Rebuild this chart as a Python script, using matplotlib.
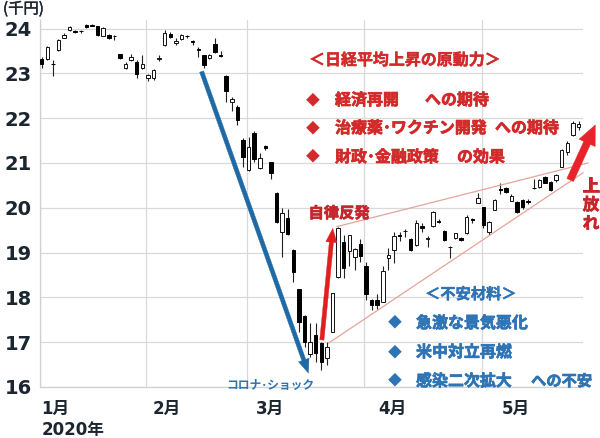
import matplotlib
matplotlib.use("Agg")
import matplotlib.pyplot as plt
import matplotlib.patheffects as pe
import numpy as np

plt.rcParams['font.family'] = ['Noto Sans CJK JP', 'DejaVu Sans']

# ------------------------------------------------------------
# Data: Nikkei 225 daily candles, Jan - May 2020 (unit: 千円)
# ------------------------------------------------------------
jan_days = [6, 7, 8, 9, 10, 14, 15, 16, 17, 20, 21, 22, 23, 24, 27, 28, 29, 30, 31]
feb_days = [3, 4, 5, 6, 7, 10, 12, 13, 14, 17, 18, 19, 20, 21, 25, 26, 27, 28]
mar_days = [2, 3, 4, 5, 6, 9, 10, 11, 12, 13, 16, 17, 18, 19, 23, 24, 25, 26, 27, 30, 31]
apr_days = [1, 2, 3, 6, 7, 8, 9, 10, 13, 14, 15, 16, 17, 20, 21, 22, 23, 24, 27, 28, 30]
may_days = [1, 7, 8, 11, 12, 13, 14, 15, 18, 19, 20, 21, 22, 25, 26, 27, 28, 29]
month_names = ["1月", "2月", "3月", "4月", "5月"]

opens = [
    23.32, 23.31, 23.22, 23.52, 23.79, 23.96, 23.94, 23.95, 24.09, 24.07, 24.05, 23.84, 23.85, 23.83, 23.43, 23.11, 23.30, 23.26, 23.11,
    22.89, 22.89, 23.33, 23.63, 23.88, 23.67, 23.76, 23.84, 23.71, 23.54, 23.40, 23.34, 23.65, 23.41, 22.94, 22.36, 22.26, 21.51,
    20.84, 21.66, 20.88, 21.39, 21.02, 20.34, 19.47, 19.77, 19.06, 18.18, 17.58, 16.74, 17.16, 16.99, 16.64, 17.23, 18.45, 19.24, 19.03, 18.90, 19.19,
    18.69, 17.94, 17.95, 17.90, 18.88, 19.06, 19.39, 19.48, 19.30, 19.17, 19.59, 19.31, 19.59, 19.70, 19.49, 19.12, 19.32, 19.33, 19.43, 19.74, 20.11,
    20.01, 19.47, 19.95, 20.41, 20.44, 20.16, 20.14, 20.17, 20.14, 20.45, 20.46, 20.68, 20.58, 20.62, 20.92, 21.25, 21.63, 21.81,
]
highs = [
    23.37, 23.60, 23.30, 23.77, 23.90, 24.06, 23.97, 23.97, 24.11, 24.10, 24.06, 24.03, 23.87, 23.86, 23.44, 23.25, 23.44, 23.30, 23.41,
    22.99, 23.09, 23.40, 23.97, 23.92, 23.80, 23.88, 23.86, 23.75, 23.58, 23.42, 23.43, 23.80, 23.51, 22.96, 22.47, 22.30, 21.55,
    21.59, 21.72, 21.22, 21.40, 21.03, 20.35, 19.99, 19.98, 19.07, 18.19, 17.60, 17.42, 17.42, 17.00, 17.01, 18.10, 19.56, 19.39, 19.40, 19.10, 19.30,
    18.80, 17.97, 18.07, 18.69, 19.10, 19.47, 19.45, 19.52, 19.33, 19.73, 19.66, 19.36, 19.93, 19.74, 19.50, 19.15, 19.44, 19.35, 19.83, 19.78, 20.32,
    20.02, 19.70, 20.19, 20.55, 20.46, 20.30, 20.16, 20.20, 20.20, 20.64, 20.64, 20.70, 20.60, 20.75, 21.32, 21.48, 21.94, 21.94,
]
lows = [
    23.13, 23.30, 22.95, 23.50, 23.78, 23.95, 23.90, 23.91, 24.02, 24.05, 23.84, 23.83, 23.76, 23.74, 23.31, 23.10, 23.28, 22.89, 23.10,
    22.82, 22.86, 23.27, 23.61, 23.78, 23.64, 23.75, 23.80, 23.63, 23.37, 23.13, 23.32, 23.45, 23.37, 22.35, 22.15, 21.85, 20.92,
    20.83, 21.03, 20.86, 21.28, 20.64, 19.65, 18.91, 19.40, 18.34, 17.22, 16.90, 16.68, 16.56, 16.38, 16.49, 17.22, 18.44, 18.43, 18.70, 18.61, 18.80,
    17.95, 17.72, 17.75, 17.89, 18.61, 18.76, 19.25, 19.35, 19.03, 19.15, 19.47, 19.13, 19.58, 19.67, 19.25, 18.87, 19.30, 19.25, 19.42, 19.65, 20.10,
    19.54, 19.40, 19.94, 20.31, 20.34, 20.15, 19.88, 19.98, 20.08, 20.43, 20.45, 20.55, 20.38, 20.58, 20.90, 21.18, 21.60, 21.74,
]
closes = [
    23.20, 23.58, 23.20, 23.74, 23.85, 24.03, 23.92, 23.94, 24.04, 24.06, 23.86, 24.02, 23.78, 23.83, 23.34, 23.22, 23.37, 22.98, 23.20,
    22.97, 23.08, 23.34, 23.89, 23.81, 23.72, 23.86, 23.83, 23.70, 23.53, 23.19, 23.41, 23.47, 23.39, 22.60, 22.42, 21.95, 21.14,
    21.36, 21.09, 21.10, 21.33, 20.78, 19.69, 19.88, 19.42, 18.56, 17.46, 17.01, 17.01, 16.75, 16.56, 16.90, 18.09, 19.54, 18.66, 19.39, 19.07, 18.92,
    18.07, 17.83, 17.83, 18.60, 18.95, 19.36, 19.36, 19.49, 19.06, 19.65, 19.55, 19.32, 19.91, 19.69, 19.28, 19.13, 19.43, 19.27, 19.80, 19.73, 20.21,
    19.62, 19.69, 20.17, 20.40, 20.36, 20.26, 19.91, 20.02, 20.13, 20.44, 20.61, 20.56, 20.40, 20.73, 21.29, 21.44, 21.89, 21.88,
]

yticks = [16, 17, 18, 19, 20, 21, 22, 23, 24]
month_label_x = [2.4, 22.4, 40.9, 62.8, 84.8]

RED = '#d22a2a'
DARKRED = '#c4262b'
BLUE = '#2e74b5'
BLUE_LINE = '#1f6aa5'
WEDGE = '#e2a797'
INK = '#1b2631'


def px(x, y):
    """pixel position -> figure fraction"""
    return x / 600, 1 - y / 438


def heavy(color, w=0.5):
    return [pe.withStroke(linewidth=w, foreground=color)]


def arrow(ax, start, end, color, scale, tail=0.3, head_w=0.8, head_l=1.0):
    ax.annotate('', xy=end, xytext=start, annotation_clip=False, zorder=5,
                arrowprops=dict(arrowstyle=f'simple,head_length={head_l},head_width={head_w},tail_width={tail}',
                                color=color, lw=0.3, mutation_scale=scale, shrinkA=0, shrinkB=0))


fig = plt.figure(figsize=(6, 4.38), dpi=100)
ax = fig.add_axes([40 / 600, 1 - 387 / 438, 543 / 600, 367.4 / 438])

# --- candles ---
o, h, l, c = (np.array(a) for a in (opens, highs, lows, closes))
x = np.arange(len(o))
up = c >= o
body_bottom = np.minimum(o, c)
body_h = np.maximum(np.abs(c - o), 0.012)

ax.vlines(x, l, h, color='#222222', lw=0.8, zorder=2)
ax.bar(x[up], body_h[up], bottom=body_bottom[up], width=0.62,
       color='white', edgecolor='#111111', lw=0.7, zorder=3)
ax.bar(x[~up], body_h[~up], bottom=body_bottom[~up], width=0.62,
       color='black', edgecolor='black', lw=0.7, zorder=3)

# --- axes, grid ---
month_counts = [len(d) for d in (jan_days, feb_days, mar_days, apr_days, may_days)]
month_starts = np.cumsum([0] + month_counts[:-1])
ax.set_xlim(-0.3, len(o) - 0.2)
ax.set_ylim(16, 24.2)
ax.set_yticks(yticks)
ax.set_yticklabels([str(v) for v in yticks], fontsize=14, fontweight='bold',
                   color=INK, family='DejaVu Sans')
ax.set_xticks(month_starts - 0.3, minor=True)
ax.set_xticks(month_label_x)
ax.set_xticklabels(month_names, fontsize=12, fontweight='bold', color=INK,
                   family=['DejaVu Sans', 'Noto Sans CJK JP'])
ax.tick_params(axis='both', which='both', length=0)
ax.tick_params(axis='y', pad=6)
ax.tick_params(axis='x', pad=9)
ax.grid(True, axis='y', which='major', color='#d9d9d9', lw=0.9, zorder=0)
ax.grid(True, axis='x', which='minor', color='#d9d9d9', lw=0.9, zorder=0)
for s in ('top', 'right'):
    ax.spines[s].set_visible(False)
for s in ('left', 'bottom'):
    ax.spines[s].set_color('#d0d0d0')
    ax.spines[s].set_linewidth(0.9)

# --- annotation lines / arrows ---
arrow(ax, (28.6, 23.04), (47.7, 16.31), BLUE_LINE, 10)
arrow(ax, (50.1, 17.05), (52.05, 19.54), '#e02020', 10)
ax.plot([52.8, 97.7], [19.58, 21.0], color=WEDGE, lw=0.9, clip_on=False, zorder=4)
ax.plot([51.3, 96.8], [16.98, 20.78], color=WEDGE, lw=0.9, clip_on=False, zorder=4)
arrow(ax, (94.5, 20.62), (99.0, 21.85), '#e8242a', 15, tail=0.35, head_w=0.85, head_l=0.95)

# --- texts ---
fig.text(*px(3, 9), '(千円)', fontsize=11, color=INK, va='center', ha='left',
         path_effects=heavy(INK, 0.3))
fig.text(*px(42, 430), '2020年', fontsize=12, fontweight='bold', color=INK,
         va='center', ha='left', family=['DejaVu Sans', 'Noto Sans CJK JP'])

fig.text(*px(309, 60), '＜日経平均上昇の原動力＞', fontsize=11.5, fontweight='bold',
         color=RED, va='center', ha='left', path_effects=heavy(RED, 0.3))
red_rows = [(100, '経済再開', 425, 'への期待'),
            (128, '治療薬･ワクチン開発', 495, 'への期待'),
            (157, '財政･金融政策', 457, 'の効果')]
for y, left, x2, right in red_rows:
    fig.text(*px(313, y), '◆', fontsize=10, color=RED, va='center', ha='center')
    fig.text(*px(335, y), left, fontsize=11.5, fontweight='bold', color=RED, va='center', ha='left',
             path_effects=heavy(RED))
    fig.text(*px(x2, y), right, fontsize=11.5, fontweight='bold', color=RED, va='center', ha='left',
             path_effects=heavy(RED))

fig.text(*px(425, 294), '＜不安材料＞', fontsize=11, fontweight='bold', color=BLUE,
         va='center', ha='left', path_effects=heavy(BLUE, 0.3))
blue_rows = [(323, '急激な景気悪化', None, None),
             (352, '米中対立再燃', None, None),
             (381, '感染二次拡大', 531, 'への不安')]
for y, left, x2, right in blue_rows:
    fig.text(*px(395, y), '◆', fontsize=10, color=BLUE, va='center', ha='center')
    fig.text(*px(416, y), left, fontsize=11.5, fontweight='bold', color=BLUE, va='center', ha='left',
             path_effects=heavy(BLUE))
    if right:
        fig.text(*px(x2, y), right, fontsize=11, fontweight='bold', color=BLUE, va='center', ha='left',
                 path_effects=heavy(BLUE))

fig.text(*px(270, 385), 'コロナ･ショック', fontsize=8.5, fontweight='bold', color=BLUE,
         va='center', ha='center')
fig.text(*px(339, 213), '自律反発', fontsize=11, fontweight='bold', color=DARKRED,
         va='center', ha='center', path_effects=heavy(DARKRED))
fig.text(*px(591, 205), '上\n放\nれ', fontsize=12, fontweight='bold', color=DARKRED,
         va='center', ha='center', linespacing=1.05, path_effects=heavy(DARKRED))

fig.savefig('out.png', dpi=100)
